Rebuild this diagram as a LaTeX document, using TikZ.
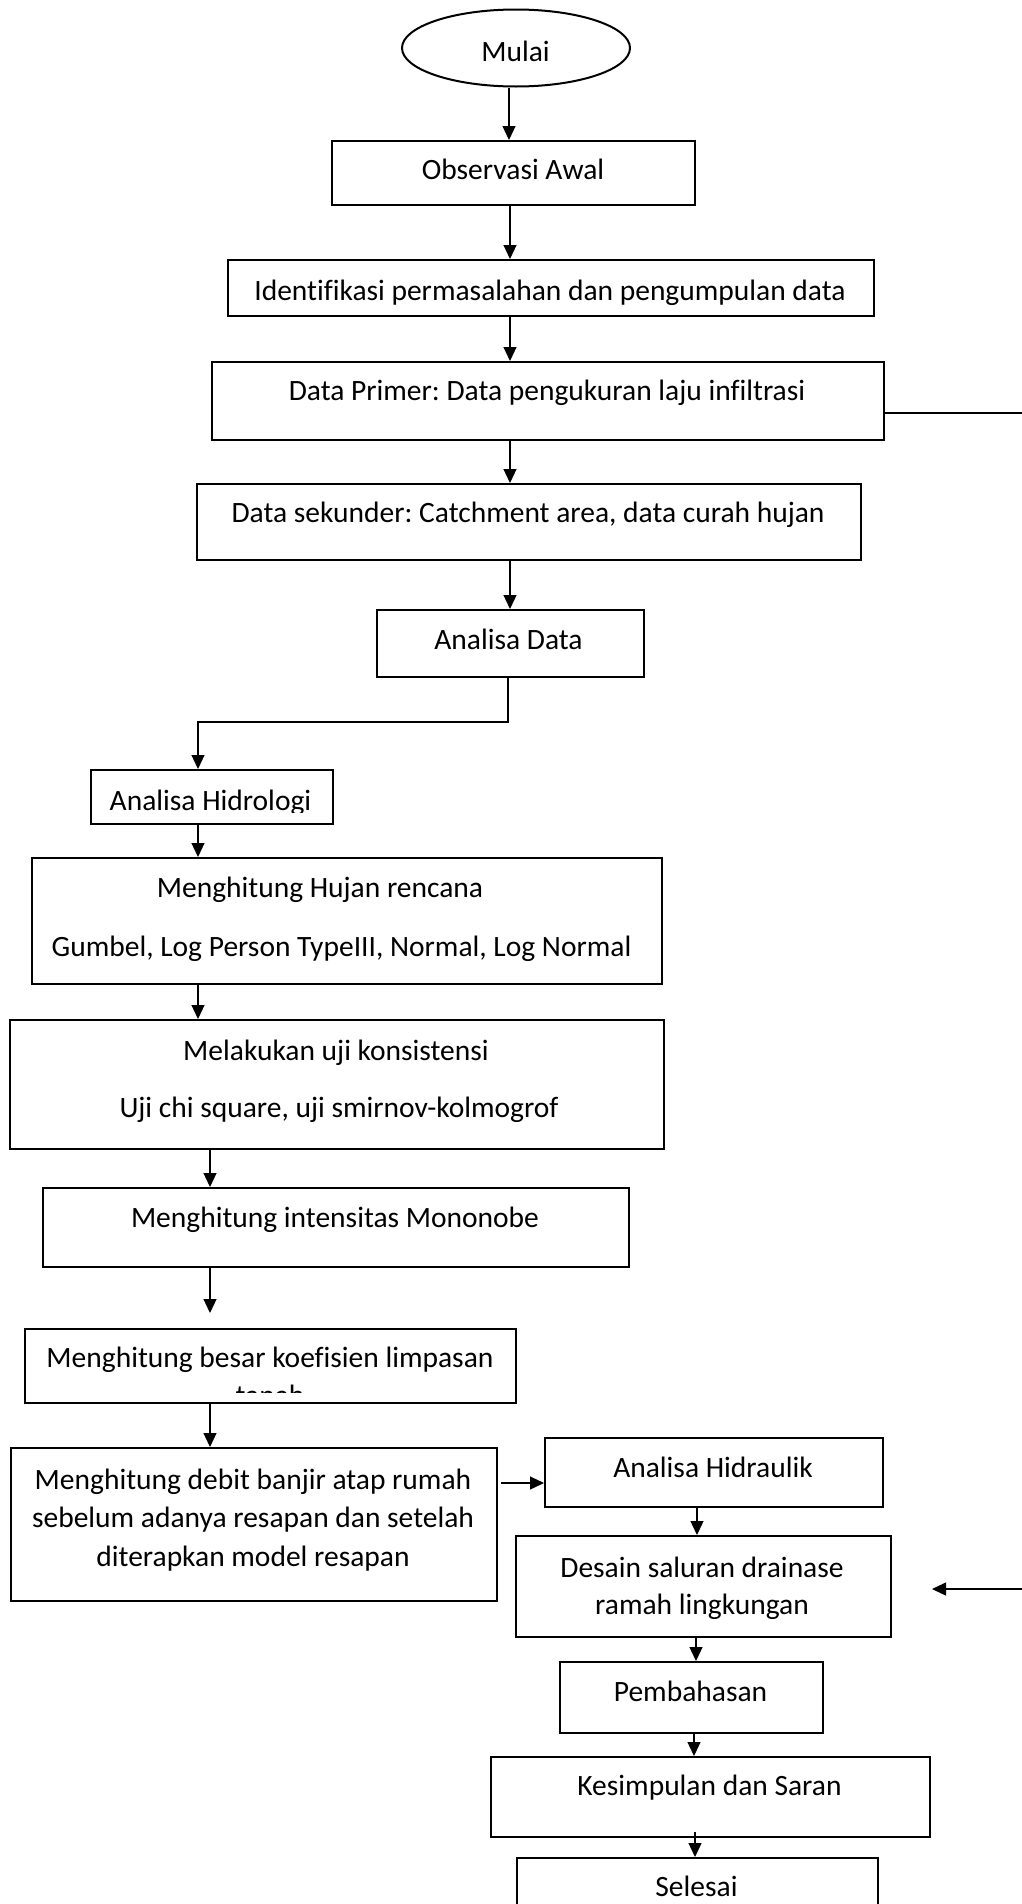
\documentclass[tikz,border=0pt]{standalone}
\usepackage{fontspec}
\setmainfont{Carlito}[Ligatures=CommonOff]
\usetikzlibrary{shapes.geometric,arrows.meta}
\frenchspacing
\begin{document}
\begin{tikzpicture}[x=1pt,y=-1pt,
  box/.style={draw=black, line width=2pt, rectangle, inner sep=0pt, anchor=north west},
  startend/.style={draw=black, line width=2pt, ellipse, inner sep=0pt},
  txt/.style={inner sep=0pt, anchor=base, font=\fontsize{29.5}{35}\selectfont},
  arr/.style={line width=1.2pt, -{Triangle[length=14pt,width=13pt]}},
  conn/.style={line width=1.2pt}]
\useasboundingbox (0,0) rectangle (1021,1904);

% x positions of vertical connectors
\coordinate (cA) at (509,0);
\coordinate (cB) at (510,0);
\coordinate (cC) at (508,0);
\coordinate (cD) at (198,0);
\coordinate (cE) at (210,0);
\coordinate (cF) at (697,0);
\coordinate (cG) at (696,0);
\coordinate (cH) at (694,0);
\coordinate (cI) at (695,0);
\coordinate (cJ) at (0,1483);
\coordinate (rEdgeA) at (1030,413);
\coordinate (rEdgeB) at (1030,1589);

% shapes
\node[startend, minimum width=228pt, minimum height=77pt] (mulai) at (516,48) {};
\node[box, minimum width=363pt, minimum height=64pt] (obs) at (331,140) {};
\node[box, minimum width=646pt, minimum height=56pt] (ident) at (227,259) {};
\node[box, minimum width=672pt, minimum height=78pt] (primer) at (211,361) {};
\node[box, minimum width=664pt, minimum height=76pt] (sekunder) at (196,483) {};
\node[box, minimum width=267pt, minimum height=67pt] (data) at (376,609) {};
\node[box, minimum width=242pt, minimum height=54pt] (hidro) at (90,769) {};
\node[box, minimum width=630pt, minimum height=126pt] (hujan) at (31,857) {};
\node[box, minimum width=654pt, minimum height=129pt] (uji) at (9,1019) {};
\node[box, minimum width=586pt, minimum height=79pt] (mono) at (42,1187) {};
\node[box, minimum width=491pt, minimum height=74pt] (koef) at (24,1328) {};
\node[box, minimum width=486pt, minimum height=153pt] (debit) at (10,1447) {};
\node[box, minimum width=338pt, minimum height=69pt] (hidraulik) at (544,1437) {};
\node[box, minimum width=375pt, minimum height=101pt] (desain) at (515,1535) {};
\node[box, minimum width=263pt, minimum height=71pt] (bahas) at (559,1661) {};
\node[box, minimum width=439pt, minimum height=80pt] (simpul) at (490,1756) {};
\node[box, minimum width=361pt, minimum height=90pt] (selesai) at (516,1857) {};

% texts
\node[txt] (tmulai) at (515.5,61.5) {Mulai};
\node[txt] (tobs) at (513,179) {Observasi Awal};
\node[txt] (tident) at (550,300) {Identifikasi permasalahan dan pengumpulan data};
\node[txt] (tprimer) at (547,400) {Data Primer: Data pengukuran laju infiltrasi};
\node[txt] (tsekunder) at (528,522.5) {Data sekunder: Catchment area, data curah hujan};
\node[txt] (tdata) at (508.5,649) {Analisa Data};
\begin{scope}
  \clip (90,769) rectangle (332,812.5);
  \node[txt] (thidro) at (210.5,810) {Analisa Hidrologi};
\end{scope}
\node[txt] (thujanA) at (320,897) {Menghitung Hujan rencana};
\node[txt] (thujanB) at (341.5,956) {Gumbel, Log Person TypeIII, Normal, Log Normal};
\node[txt] (tujiA) at (336,1060) {Melakukan uji konsistensi};
\node[txt] (tujiB) at (339,1117.5) {Uji chi square, uji smirnov-kolmogrof};
\node[txt] (tmono) at (335,1227) {Menghitung intensitas Mononobe};
\node[txt] (tkoefA) at (270,1367) {Menghitung besar koefisien limpasan};
\begin{scope}
  \clip (24,1328) rectangle (515,1392.5);
  \node[txt] (tkoefB) at (270,1405.5) {tanah};
\end{scope}
\node[txt] (tdebitA) at (253,1489) {Menghitung debit banjir atap rumah};
\node[txt] (tdebitB) at (253,1527.5) {sebelum adanya resapan dan setelah};
\node[txt] (tdebitC) at (253,1566) {diterapkan model resapan};
\node[txt] (thidraulik) at (713,1477) {Analisa Hidraulik};
\node[txt] (tdesainA) at (702,1577) {Desain saluran drainase};
\node[txt] (tdesainB) at (702,1614) {ramah lingkungan};
\node[txt] (tbahas) at (690.5,1701.5) {Pembahasan};
\node[txt] (tsimpul) at (709.5,1795) {Kesimpulan dan Saran};
\node[txt] (tselesai) at (696.5,1896.5) {Selesai};

% connectors
\draw[arr] (mulai.south -| cA) -- (obs.north -| cA);
\draw[arr] (obs.south -| cB) -- (ident.north -| cB);
\draw[arr] (ident.south -| cB) -- (primer.north -| cB);
\draw[arr] (primer.south -| cB) -- (sekunder.north -| cB);
\draw[arr] (sekunder.south -| cB) -- (data.north -| cB);
\draw[arr] (data.south -| cC) -- ++(0,44) -| (hidro.north -| cD);
\draw[arr] (hidro.south -| cD) -- (hujan.north -| cD);
\draw[arr] (hujan.south -| cD) -- (uji.north -| cD);
\draw[arr] (uji.south -| cE) -- (mono.north -| cE);
\draw[arr] (mono.south -| cE) -- ([yshift=15pt]koef.north -| cE);
\draw[arr] (koef.south -| cE) -- (debit.north -| cE);
\draw[arr] ([xshift=3pt]debit.east |- cJ) -- (hidraulik.west |- cJ);
\draw[arr] (hidraulik.south -| cF) -- (desain.north -| cF);
\draw[arr] (desain.south -| cG) -- (bahas.north -| cG);
\draw[arr] (bahas.south -| cH) -- (simpul.north -| cH);
\draw[arr] ([yshift=6pt]simpul.south -| cI) -- (selesai.north -| cI);
\draw[conn] (primer.east |- rEdgeA) -- (rEdgeA);
\draw[arr] (rEdgeB) -- ([xshift=40pt]desain.east |- rEdgeB);
\end{tikzpicture}
\end{document}
